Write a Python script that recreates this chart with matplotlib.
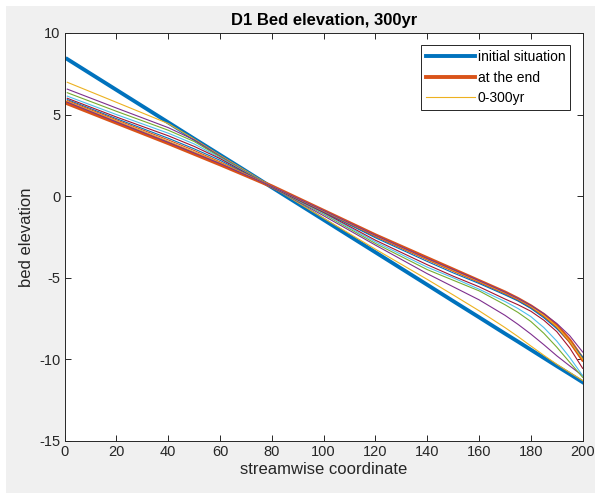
import matplotlib.pyplot as plt
from matplotlib.patches import Rectangle

plt.rcParams['font.family'] = ['Liberation Sans', 'DejaVu Sans']
plt.rcParams['axes.unicode_minus'] = False

x = [1, 20, 40, 50, 60, 70, 80, 100, 120, 140, 150, 160, 170, 175, 180, 185, 190, 195, 200]

z_initial = [8.40, 6.51, 4.52, 3.52, 2.53, 1.54, 0.54, -1.45, -3.44, -5.43, -6.43, -7.42,
             -8.42, -8.91, -9.41, -9.91, -10.41, -10.90, -11.40]
z_end = [5.69, 4.50, 3.25, 2.60, 1.95, 1.28, 0.60, -0.90, -2.40, -3.80, -4.50, -5.20,
         -5.90, -6.30, -6.75, -7.28, -7.95, -8.85, -10.00]

# intermediate profiles (every 30 yr)
z_30 = [6.98, 5.75, 4.45, 3.50, 2.50, 1.55, 0.58, -1.35, -3.25, -5.10, -6.05, -7.02,
        -8.05, -8.60, -9.18, -9.75, -10.30, -10.80, -11.30]
z_60 = [6.56, 5.40, 4.20, 3.45, 2.45, 1.50, 0.56, -1.20, -3.00, -4.75, -5.55, -6.35,
        -7.30, -7.85, -8.45, -9.10, -9.78, -10.40, -11.00]
z_90 = [6.34, 5.20, 4.04, 3.35, 2.40, 1.48, 0.55, -1.10, -2.90, -4.50, -5.15, -5.80,
        -6.65, -7.12, -7.68, -8.40, -9.25, -10.18, -11.10]
z_120 = [6.13, 5.00, 3.86, 3.20, 2.35, 1.45, 0.55, -1.05, -2.80, -4.35, -5.00, -5.70,
         -6.45, -6.88, -7.38, -8.05, -8.88, -9.88, -11.00]
z_150 = [6.00, 4.85, 3.70, 3.05, 2.30, 1.42, 0.55, -1.00, -2.70, -4.20, -4.90, -5.55,
         -6.30, -6.65, -7.05, -7.60, -8.30, -9.30, -10.55]
z_180 = [5.92, 4.75, 3.55, 2.90, 2.20, 1.38, 0.58, -0.95, -2.55, -4.00, -4.70, -5.35,
         -6.05, -6.42, -6.88, -7.45, -8.12, -8.92, -9.86]
z_210 = [5.86, 4.68, 3.45, 2.80, 2.10, 1.35, 0.60, -0.92, -2.45, -3.90, -4.60, -5.25,
         -5.95, -6.33, -6.78, -7.33, -8.02, -8.95, -10.10]
z_240 = [5.80, 4.60, 3.35, 2.70, 2.05, 1.33, 0.60, -0.90, -2.42, -3.85, -4.55, -5.22,
         -5.92, -6.30, -6.75, -7.30, -7.98, -8.88, -10.00]
z_270 = [5.76, 4.55, 3.30, 2.65, 2.00, 1.30, 0.60, -0.88, -2.40, -3.82, -4.50, -5.18,
         -5.88, -6.27, -6.70, -7.20, -7.80, -8.55, -9.55]
intermediate = [z_30, z_60, z_90, z_120, z_150, z_180, z_210, z_240, z_270]

# MATLAB default colour order
colors = ['#0072BD', '#D95319', '#EDB120', '#7E2F8E', '#77AC30', '#4DBEEE', '#A2142F']
axc = '#262626'

fig = plt.figure(figsize=(5.95, 4.93), dpi=100, facecolor='white')
fig.patches.append(Rectangle((6 / 595, 0), 589 / 595, 487 / 493, transform=fig.transFigure,
                             facecolor='#f0f0f0', edgecolor='none', zorder=-10))
ax = fig.add_axes([0.1087, 0.1055, 0.8706, 0.8276])

ax.plot(x, z_initial, color=colors[0], linewidth=2.8, label='initial situation')
ax.plot(x, z_end, color=colors[1], linewidth=2.8, label='at the end')
for i, z in enumerate(intermediate):
    ax.plot(x, z, color=colors[(i + 2) % len(colors)], linewidth=0.8,
            label='0-300yr' if i == 0 else '_nolegend_')

ax.set_xlim(0, 200)
ax.set_ylim(-15, 10)
ax.set_xticks(range(0, 201, 20))
ax.set_yticks(range(-15, 11, 5))
ax.tick_params(direction='in', length=4, width=0.7, top=True, right=True,
               labelsize=10.5, colors=axc, pad=3)
for s in ax.spines.values():
    s.set_color(axc)
    s.set_linewidth(0.7)

ax.set_xlabel('streamwise coordinate', fontsize=12, color=axc, labelpad=2)
ax.set_ylabel('bed elevation', fontsize=12, color=axc, labelpad=4)
ax.set_title('D1 Bed elevation, 300yr', fontsize=12, fontweight='bold', color='black', pad=6)

leg = ax.legend(loc='upper right', fontsize=10, frameon=True, fancybox=False,
                framealpha=1, edgecolor=axc, handlelength=3.5, handletextpad=0.2,
                labelspacing=0.45, borderaxespad=0.9, borderpad=0.35)
leg.get_frame().set_linewidth(0.7)

fig.savefig('out.png', dpi=100, facecolor=fig.get_facecolor())
